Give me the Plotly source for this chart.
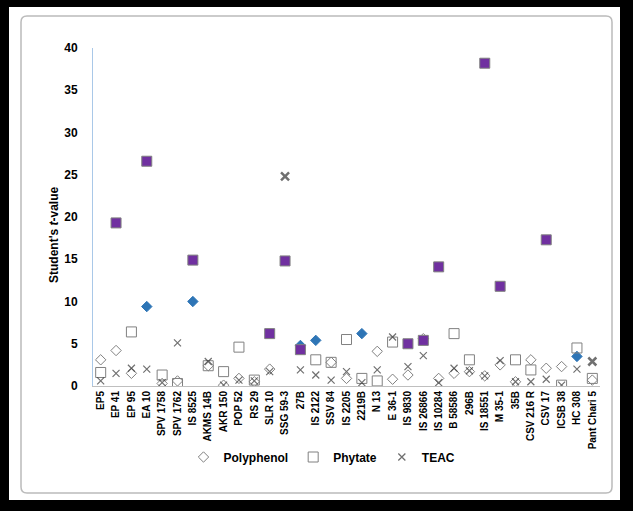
import plotly.graph_objects as go

categories = ["EP5", "EP 41", "EP 95", "EA 10", "SPV 1758", "SPV 1762", "IS 8525", "AKMS 14B",
              "AKR 150", "POP 52", "RS 29", "SLR 10", "SSG 59-3", "27B", "IS 2122", "SSV 84",
              "IS 2205", "2219B", "N 13", "E 36-1", "IS 9830", "IS 26866", "IS 10284", "B 58586",
              "296B", "IS 18551", "M 35-1", "35B", "CSV 216 R", "CSV 17", "ICSB 38", "HC 308",
              "Pant Chari 5"]

polyphenol = [3.1, 4.2, 1.5, 9.4, 0.3, 0.6, 10.0, 2.4, 0.1, 0.9, 0.5, 2.0, None, 4.8, 5.4, 2.8,
              0.9, 6.2, 4.1, 0.8, 1.3, 5.6, 0.9, 1.5, 1.7, 1.2, 2.5, 0.5, 3.1, 2.1, 2.3, 3.5, 0.7]
polyphenol_sig = ["EA 10", "IS 8525", "27B", "IS 2122", "2219B", "HC 308"]

phytate = [1.6, 19.3, 6.4, 26.6, 1.3, 0.3, 14.9, 2.4, 1.7, 4.6, 0.7, 6.2, 14.8, 4.3, 3.1, 2.8,
           5.5, 0.9, 0.6, 5.2, 5.0, 5.4, 14.1, 6.2, 3.1, 38.2, 11.8, 3.1, 1.9, 17.3, 0.1, 4.5, 0.9]
phytate_sig = ["EP 41", "EA 10", "IS 8525", "SLR 10", "SSG 59-3", "27B", "IS 9830", "IS 26866",
               "IS 10284", "IS 18551", "M 35-1", "CSV 17"]

teac = [0.6, 1.5, 2.1, 2.0, 0.4, 5.1, None, 2.9, 0.1, 0.7, 0.6, 1.7, 24.8, 1.9, 1.3, 0.7,
        1.7, 0.4, 1.9, 5.8, 2.3, 3.6, 0.4, 2.1, 1.8, 1.2, 3.0, 0.5, 0.5, 0.8, 0.1, 2.0, 2.9]
teac_sig = ["SSG 59-3", "Pant Chari 5"]

y_ticks = [0, 5, 10, 15, 20, 25, 30, 35, 40]

PURPLE = "#7030A0"
BLUE = "#2E75B6"
GRAY = "#808080"
FONT = "Liberation Sans Narrow, Arial Narrow, Liberation Sans, Arial"

fig = go.Figure()

fig.add_trace(go.Scatter(
    x=categories, y=polyphenol, mode="markers", name="Polyphenol",
    marker=dict(
        symbol="diamond", size=8,
        color=[BLUE if c in polyphenol_sig else "rgba(0,0,0,0)" for c in categories],
        line=dict(color=[BLUE if c in polyphenol_sig else GRAY for c in categories], width=1),
    ),
))
fig.add_trace(go.Scatter(
    x=categories, y=phytate, mode="markers", name="Phytate",
    marker=dict(
        symbol="square", size=10,
        color=[PURPLE if c in phytate_sig else "rgba(0,0,0,0)" for c in categories],
        line=dict(color=GRAY, width=1),
    ),
))
fig.add_trace(go.Scatter(
    x=categories, y=teac, mode="markers", name="TEAC",
    marker=dict(
        symbol="x-thin-open", size=[8 if c in teac_sig else 7 for c in categories],
        color="#333333",
        line=dict(color=["#000000" if c in teac_sig else "#404040" for c in categories],
                  width=[2.5 if c in teac_sig else 1.2 for c in categories]),
    ),
))

# frame helpers (pixel -> paper)
L, R, T, B = 93, 600, 48, 386
def px(x):
    return (x - L) / (R - L)
def py(y):
    return (B - y) / (B - T)

def rounded_rect(x0, y0, x1, y1, r):
    pts = []
    pts.append(f"M {px(x0 + r)} {py(y0)}")
    pts.append(f"L {px(x1 - r)} {py(y0)}")
    pts.append(f"Q {px(x1)} {py(y0)} {px(x1)} {py(y0 + r)}")
    pts.append(f"L {px(x1)} {py(y1 - r)}")
    pts.append(f"Q {px(x1)} {py(y1)} {px(x1 - r)} {py(y1)}")
    pts.append(f"L {px(x0 + r)} {py(y1)}")
    pts.append(f"Q {px(x0)} {py(y1)} {px(x0)} {py(y1 - r)}")
    pts.append(f"L {px(x0)} {py(y0 + r)}")
    pts.append(f"Q {px(x0)} {py(y0)} {px(x0 + r)} {py(y0)}")
    pts.append("Z")
    return " ".join(pts)

shapes = [
    dict(type="rect", xref="paper", yref="paper", x0=px(9), x1=px(620), y0=py(7), y1=py(500),
         fillcolor="white", line=dict(width=0), layer="below"),
    dict(type="path", xref="paper", yref="paper", path=rounded_rect(21, 16, 612, 493, 6),
         fillcolor="rgba(0,0,0,0)", line=dict(color="#BBBBBB", width=1.5), layer="below"),
]

fig.update_layout(
    width=633, height=511,
    margin=dict(l=L, r=633 - R, t=T, b=511 - B),
    paper_bgcolor="black",
    plot_bgcolor="rgba(0,0,0,0)",
    font=dict(family=FONT, color="black"),
    shapes=shapes,
    showlegend=True,
    legend=dict(orientation="h", x=px(322), xanchor="center", y=py(457), yanchor="middle",
                font=dict(size=12, family=FONT, weight="bold"), bgcolor="rgba(0,0,0,0)",
                itemwidth=30, tracegroupgap=0),
    annotations=[dict(text="<b>Student's <i>t</i>-value</b>", xref="paper", yref="paper",
                      x=px(45), y=py(235), textangle=-90, showarrow=False,
                      font=dict(size=12, family=FONT))],
)

fig.update_xaxes(
    type="category", categoryorder="array", categoryarray=categories,
    range=[-0.5, len(categories) - 0.5],
    showline=True, linecolor="#BFBFBF", linewidth=1, showgrid=False, zeroline=False,
    ticks="", tickangle=-90, tickfont=dict(size=10, family=FONT, weight="bold"),
)
fig.update_yaxes(
    range=[0, 40], tickvals=y_ticks, showline=True, linecolor="#A9C8E8", linewidth=1,
    showgrid=False, zeroline=False, ticks="", ticklabelstandoff=12,
    tickfont=dict(size=12, family=FONT, weight="bold"),
)

fig.write_html("out.html", config={"displayModeBar": False},
               post_script="document.body.style.margin='0';document.body.style.overflow='hidden';")
